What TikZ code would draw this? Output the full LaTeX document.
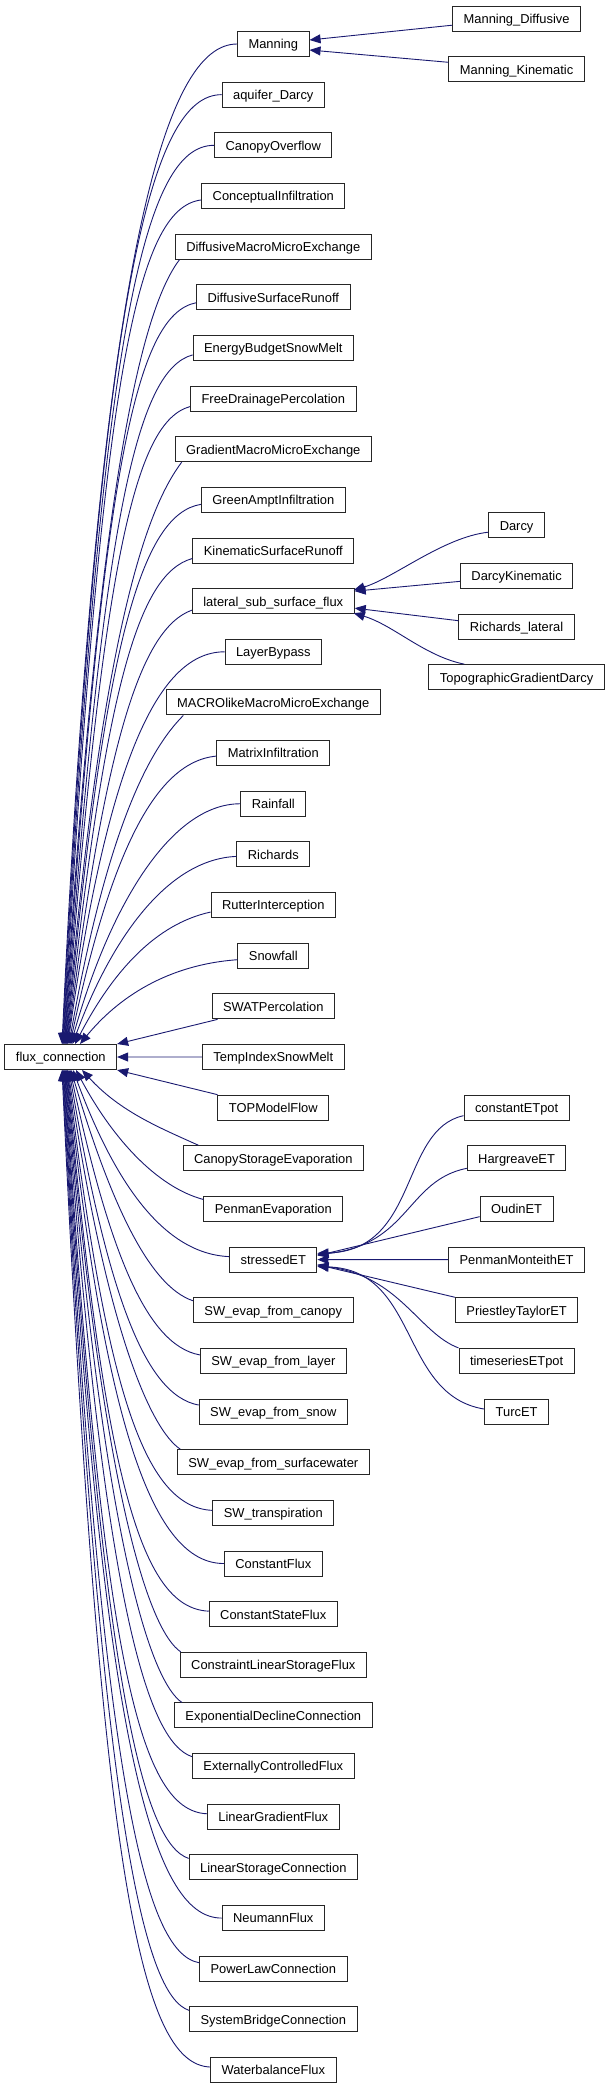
\documentclass[tikz,border=0pt]{standalone}
\usepackage{fontspec}
\setmainfont{Liberation Sans}
\usetikzlibrary{arrows.meta,calc}
\definecolor{edgecol}{HTML}{191970}
\tikzset{
  box/.style={draw=black!85, line width=1pt, fill=white, minimum height=25pt,
    inner xsep=11pt, inner ysep=0pt, text height=10pt, text depth=0.3pt,
    font=\fontsize{12.9}{14}\selectfont},
  edge/.style={draw=edgecol, line width=0.9pt, -{Triangle[length=11pt,width=9pt]}},
}
% edge from a child above flux_connection to its top side
\newcommand\upedge[3]{%
  \draw[edge] let \p1=#1, \p2=($(fc.north)+(#3,0)$), \n1={\y1-\y2},
    \n2={min(0.12*\n1+75pt,0.45*\n1)} in
    (\p1) .. controls ($(\p1)+#2$) and (\x2+38pt,\y1-\n2) .. (\p2);}
% edge from a child below flux_connection to its bottom side
\newcommand\downedge[3]{%
  \draw[edge] let \p1=#1, \p2=($(fc.south)+(#3,0)$), \n1={\y2-\y1},
    \n2={min(0.12*\n1+75pt,0.45*\n1)} in
    (\p1) .. controls ($(\p1)+#2$) and (\x2+38pt,\y1+\n2) .. (\p2);}
\begin{document}
\begin{tikzpicture}[x=1pt,y=-1pt]
\useasboundingbox (0,0) rectangle (609,2089);
% base class
\node[box] (fc) at (60.8,1057) {flux\_connection};
% middle column
\foreach \r/\t in {0/Manning, 1/aquifer\_Darcy, 2/CanopyOverflow, 3/ConceptualInfiltration,
  4/DiffusiveMacroMicroExchange, 5/DiffusiveSurfaceRunoff, 6/EnergyBudgetSnowMelt,
  7/FreeDrainagePercolation, 8/GradientMacroMicroExchange, 9/GreenAmptInfiltration,
  10/KinematicSurfaceRunoff, 11/lateral\_sub\_surface\_flux, 12/LayerBypass,
  13/MACROlikeMacroMicroExchange, 14/MatrixInfiltration, 15/Rainfall, 16/Richards,
  17/RutterInterception, 18/Snowfall, 19/SWATPercolation, 20/TempIndexSnowMelt,
  21/TOPModelFlow, 22/CanopyStorageEvaporation, 23/PenmanEvaporation, 24/stressedET,
  25/SW\_evap\_from\_canopy, 26/SW\_evap\_from\_layer, 27/SW\_evap\_from\_snow,
  28/SW\_evap\_from\_surfacewater, 29/SW\_transpiration, 30/ConstantFlux,
  31/ConstantStateFlux, 32/ConstraintLinearStorageFlux, 33/ExponentialDeclineConnection,
  34/ExternallyControlledFlux, 35/LinearGradientFlux, 36/LinearStorageConnection,
  37/NeumannFlux, 38/PowerLawConnection, 39/SystemBridgeConnection, 40/WaterbalanceFlux}
  \node[box] (m\r) at (273.3,{44+50.65*\r}) {\t};
% right column
\node[box] (md) at (516.6,18.7) {Manning\_Diffusive};
\node[box] (mk) at (516.6,69.3) {Manning\_Kinematic};
\node[box] (da) at (516.6,525.2) {Darcy};
\node[box] (dk) at (516.6,575.85) {DarcyKinematic};
\node[box] (rl) at (516.6,626.5) {Richards\_lateral};
\node[box] (tg) at (516.6,677.15) {TopographicGradientDarcy};
\node[box] (ce) at (516.6,1107.65) {constantETpot};
\node[box] (hg) at (516.6,1158.3) {HargreaveET};
\node[box] (ou) at (516.6,1208.95) {OudinET};
\node[box] (pm) at (516.6,1259.6) {PenmanMonteithET};
\node[box] (pt) at (516.6,1310.25) {PriestleyTaylorET};
\node[box] (ts) at (516.6,1360.9) {timeseriesETpot};
\node[box] (tu) at (516.6,1411.55) {TurcET};

% edges into flux_connection from above
\upedge{(m0.west)}{(-70,0)}{1.2}
\upedge{(m1.west)}{(-70,0)}{1.7}
\upedge{(m2.west)}{(-70,0)}{2.2}
\upedge{($(m3.west)+(0,4)$)}{(-65,8)}{2.7}
\upedge{($(m4.south west)+(4.7,0)$)}{(-30,40)}{3.2}
\upedge{($(m5.west)+(0,5.5)$)}{(-60,12)}{3.7}
\upedge{($(m6.west)+(0,7)$)}{(-55,15)}{4.2}
\upedge{($(m7.west)+(0,8)$)}{(-55,15)}{4.7}
\upedge{($(m8.south west)+(7,0)$)}{(-30,40)}{5.2}
\upedge{($(m9.west)+(0,4.5)$)}{(-60,10)}{5.7}
\upedge{($(m10.west)+(0,8)$)}{(-55,15)}{6.2}
\upedge{($(m11.west)+(0,9)$)}{(-50,18)}{6.7}
\upedge{(m12.west)}{(-70,0)}{7.2}
\upedge{($(m13.south west)+(17.6,0)$)}{(-35,35)}{8.2}
\upedge{($(m14.west)+(0,3)$)}{(-65,6)}{9.2}
\upedge{(m15.west)}{(-70,0)}{10.2}
\upedge{($(m16.west)+(0,2)$)}{(-70,3)}{11.7}
\upedge{($(m17.west)+(0,7)$)}{(-55,12)}{14.2}
\upedge{($(m18.west)+(0,4)$)}{(-70,5)}{19.2}
% straight edges
\draw[edge] ($(m19.south west)+(6,0)$) -- (fc.north east);
\draw[edge] (m20.west) -- (fc.east);
\draw[edge] (m21.north west) -- (fc.south east);
% edges into flux_connection from below
\downedge{($(m22.north west)+(16,0)$)}{(-40,-18)}{21.2}
\downedge{($(m23.west)+(0,-9.5)$)}{(-45,-12)}{15.2}
\downedge{($(m24.west)+(0,-3)$)}{(-70,-3)}{12.2}
\downedge{($(m25.west)+(0,-9.5)$)}{(-45,-15)}{10.2}
\downedge{($(m26.west)+(0,-6)$)}{(-55,-10)}{9.2}
\downedge{($(m27.west)+(0,-6.5)$)}{(-55,-10)}{8.2}
\downedge{($(m28.north west)+(3.5,0)$)}{(-30,-20)}{7.2}
\downedge{($(m29.west)+(0,-2.5)$)}{(-70,-3)}{6.7}
\downedge{(m30.west)}{(-70,0)}{6.2}
\downedge{($(m31.west)+(0,-3)$)}{(-70,-3)}{5.7}
\downedge{($(m32.north west)+(1,0)$)}{(-30,-20)}{5.2}
\downedge{($(m33.north west)+(8,0)$)}{(-30,-20)}{4.7}
\downedge{($(m34.west)+(0,-9.5)$)}{(-45,-15)}{4.2}
\downedge{($(m35.west)+(0,-3)$)}{(-70,-3)}{3.7}
\downedge{($(m36.west)+(0,-9)$)}{(-45,-15)}{3.2}
\downedge{(m37.west)}{(-70,0)}{2.7}
\downedge{($(m38.west)+(0,-6)$)}{(-55,-10)}{2.2}
\downedge{($(m39.west)+(0,-9)$)}{(-45,-15)}{1.7}
\downedge{($(m40.west)+(0,-3)$)}{(-70,-3)}{1.2}

% Manning subclasses
\draw[edge] ($(md.west)+(0,6.5)$) -- ($(m0.east)+(0,-4)$);
\draw[edge] ($(mk.west)+(0,-7)$) -- ($(m0.east)+(0,6)$);
% lateral_sub_surface_flux subclasses
\draw[edge] ($(da.west)+(0,7)$) .. controls +(-45,5) and +(40,-12) .. ($(m11.north east)+(-1,2)$);
\draw[edge] ($(dk.west)+(0,5.5)$) -- ($(m11.east)+(0,-10)$);
\draw[edge] ($(rl.west)+(0,-5.8)$) -- ($(m11.east)+(0,7)$);
\draw[edge] ($(tg.north west)+(36,0)$) .. controls +(-40,-8) and +(40,12) .. ($(m11.south east)+(-1,-1)$);
% stressedET subclasses
\draw[edge] ($(ce.west)+(0,8)$) .. controls +(-64,14) and +(102,-3) .. ($(m24.east)+(0,-6.3)$);
\draw[edge] ($(hg.west)+(0,10)$) .. controls +(-60,12) and +(92,-10) .. ($(m24.east)+(0,-5)$);
\draw[edge] ($(ou.west)+(0,7.7)$) -- ($(m24.east)+(0,-4)$);
\draw[edge] (pm.west) -- (m24.east);
\draw[edge] (pt.north west) -- ($(m24.east)+(0,5)$);
\draw[edge] (ts.north west) .. controls +(-40,-15) and +(82,10) .. ($(m24.east)+(0,6)$);
\draw[edge] ($(tu.west)+(0,-2.5)$) .. controls +(-85,-14) and +(102,3) .. ($(m24.east)+(0,7)$);
\end{tikzpicture}
\end{document}
